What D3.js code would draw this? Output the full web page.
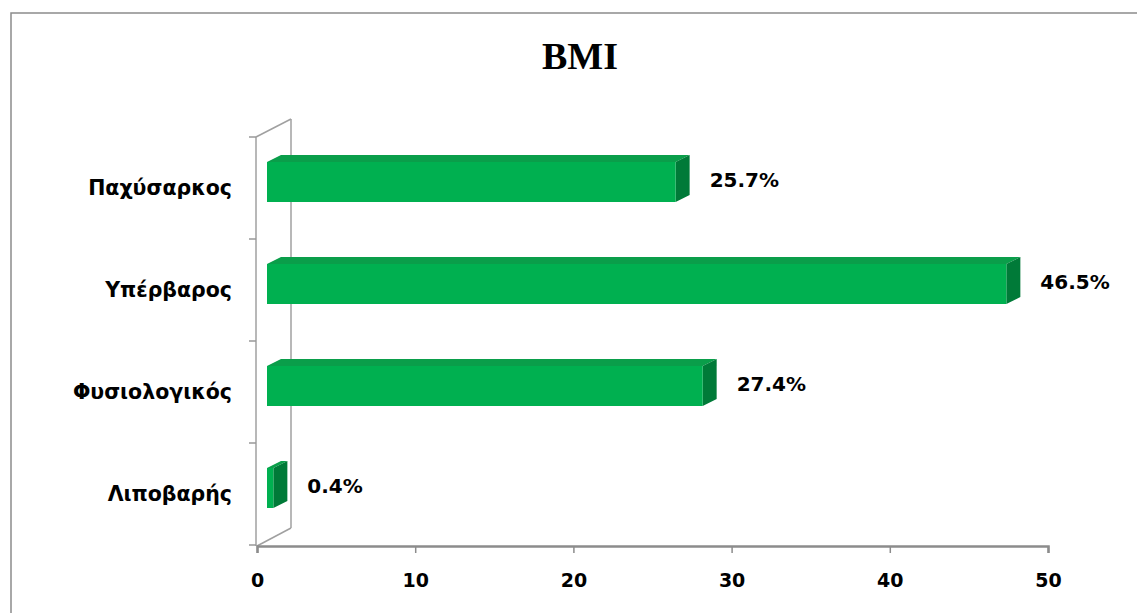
<!DOCTYPE html>
<html>
<head>
<meta charset="utf-8">
<script src="https://cdn.jsdelivr.net/npm/d3@7"></script>
<style>
  html, body { margin: 0; padding: 0; background: #fff; }
  svg { display: block; }
</style>
</head>
<body>
<svg id="chart" width="1137" height="613"></svg>
<script>
// ---- data ----
const categories = ["Παχύσαρκος", "Υπέρβαρος", "Φυσιολογικός", "Λιποβαρής"];
const values = [25.7, 46.5, 27.4, 0.4];
const valueLabels = ["25.7%", "46.5%", "27.4%", "0.4%"];
const xTicks = [0, 10, 20, 30, 40, 50];
const title = "BMI";

// ---- layout ----
const svg = d3.select("#chart");
const front = { left: 257, right: 1048, top: 137, bottom: 546 };
const wallDx = 35, wallDy = -18;   // depth of the 3D wall
const barDx = 14, barDy = -7;      // depth of each bar
const barOffset = 25, barH = 40;
const labelFont = "DejaVu Sans, Verdana, sans-serif";

const x = d3.scaleLinear().domain([0, 50]).range([front.left, front.right]);
const xBar = d3.scaleLinear().domain([0, 50]).range([267, 1062]);
const y = d3.scaleBand().domain(categories).range([front.top, front.bottom - 1]).padding(0);

// outer border
svg.append("rect")
  .attr("x", 11).attr("y", 13).attr("width", 1300).attr("height", 800)
  .attr("fill", "none").attr("stroke", "#8c8c8c").attr("stroke-width", 1.5);

// title
svg.append("text")
  .attr("x", 580).attr("y", 69)
  .attr("text-anchor", "middle")
  .attr("font-family", "Liberation Serif, Times New Roman, serif")
  .attr("font-weight", "bold")
  .attr("font-size", 38)
  .attr("fill", "#000")
  .text(title);

// 3D wall
const wall = svg.append("g").attr("stroke", "#a0a0a0").attr("stroke-width", 1.5).attr("fill", "none");
wall.append("line").attr("x1", front.left - 1).attr("y1", front.top).attr("x2", front.left - 1).attr("y2", front.bottom);
wall.append("line").attr("x1", front.left - 1 + wallDx).attr("y1", front.top + wallDy)
  .attr("x2", front.left - 1 + wallDx).attr("y2", front.bottom + wallDy);
wall.append("line").attr("x1", front.left - 1).attr("y1", front.top)
  .attr("x2", front.left - 1 + wallDx).attr("y2", front.top + wallDy);
wall.append("line").attr("x1", front.left).attr("y1", front.bottom)
  .attr("x2", front.left - 1 + wallDx).attr("y2", front.bottom + wallDy);

// left axis ticks at band boundaries
const boundaries = categories.map(c => y(c)).concat([y.range()[1]]);
svg.append("g").selectAll("line").data(boundaries).join("line")
  .attr("x1", front.left - 8).attr("x2", front.left - 1)
  .attr("y1", d => d).attr("y2", d => d)
  .attr("stroke", "#999").attr("stroke-width", 1.5);

// x axis
const xAxis = d3.axisBottom(x).tickValues(xTicks).tickSize(7).tickPadding(21).tickFormat(d3.format("d"));
const gx = svg.append("g").attr("transform", `translate(0,${front.bottom})`).call(xAxis);
gx.select(".domain").attr("stroke", "#8c8c8c").attr("stroke-width", 2.5);
gx.selectAll(".tick line").attr("stroke", "#8c8c8c").attr("stroke-width", 1.5);
gx.selectAll(".tick text")
  .attr("font-family", labelFont)
  .attr("font-weight", "bold").attr("font-size", 19).attr("fill", "#000");

// category labels
svg.append("g").selectAll("text").data(categories).join("text")
  .attr("x", 232)
  .attr("y", d => y(d) + y.bandwidth() / 2)
  .attr("dy", "0.36em")
  .attr("text-anchor", "end")
  .attr("font-family", labelFont)
  .attr("font-weight", "bold").attr("font-size", 20.5).attr("fill", "#000")
  .text(d => d);

// bars
const data = categories.map((c, i) => ({ c, v: values[i], label: valueLabels[i] }));
const bars = svg.append("g").selectAll("g").data(data).join("g");
bars.each(function(d) {
  const g = d3.select(this);
  const x0 = xBar(0), x1 = xBar(d.v);
  const y0 = y(d.c) + barOffset, y1 = y0 + barH;
  g.append("polygon")
    .attr("points", [[x0, y0], [x1, y0], [x1 + barDx, y0 + barDy], [x0 + barDx, y0 + barDy]].join(" "))
    .attr("fill", "#0a9e4a");
  g.append("polygon")
    .attr("points", [[x1, y0], [x1 + barDx, y0 + barDy], [x1 + barDx, y1 + barDy], [x1, y1]].join(" "))
    .attr("fill", "#007a38");
  g.append("rect")
    .attr("x", x0).attr("y", y0).attr("width", x1 - x0).attr("height", barH)
    .attr("fill", "#00b050");
  g.append("text")
    .attr("x", x1 + 34)
    .attr("y", y0 + barH / 2 - 2)
    .attr("dy", "0.36em")
    .attr("font-family", labelFont)
    .attr("font-weight", "bold").attr("font-size", 20).attr("fill", "#000")
    .text(d.label);
});
</script>
</body>
</html>
